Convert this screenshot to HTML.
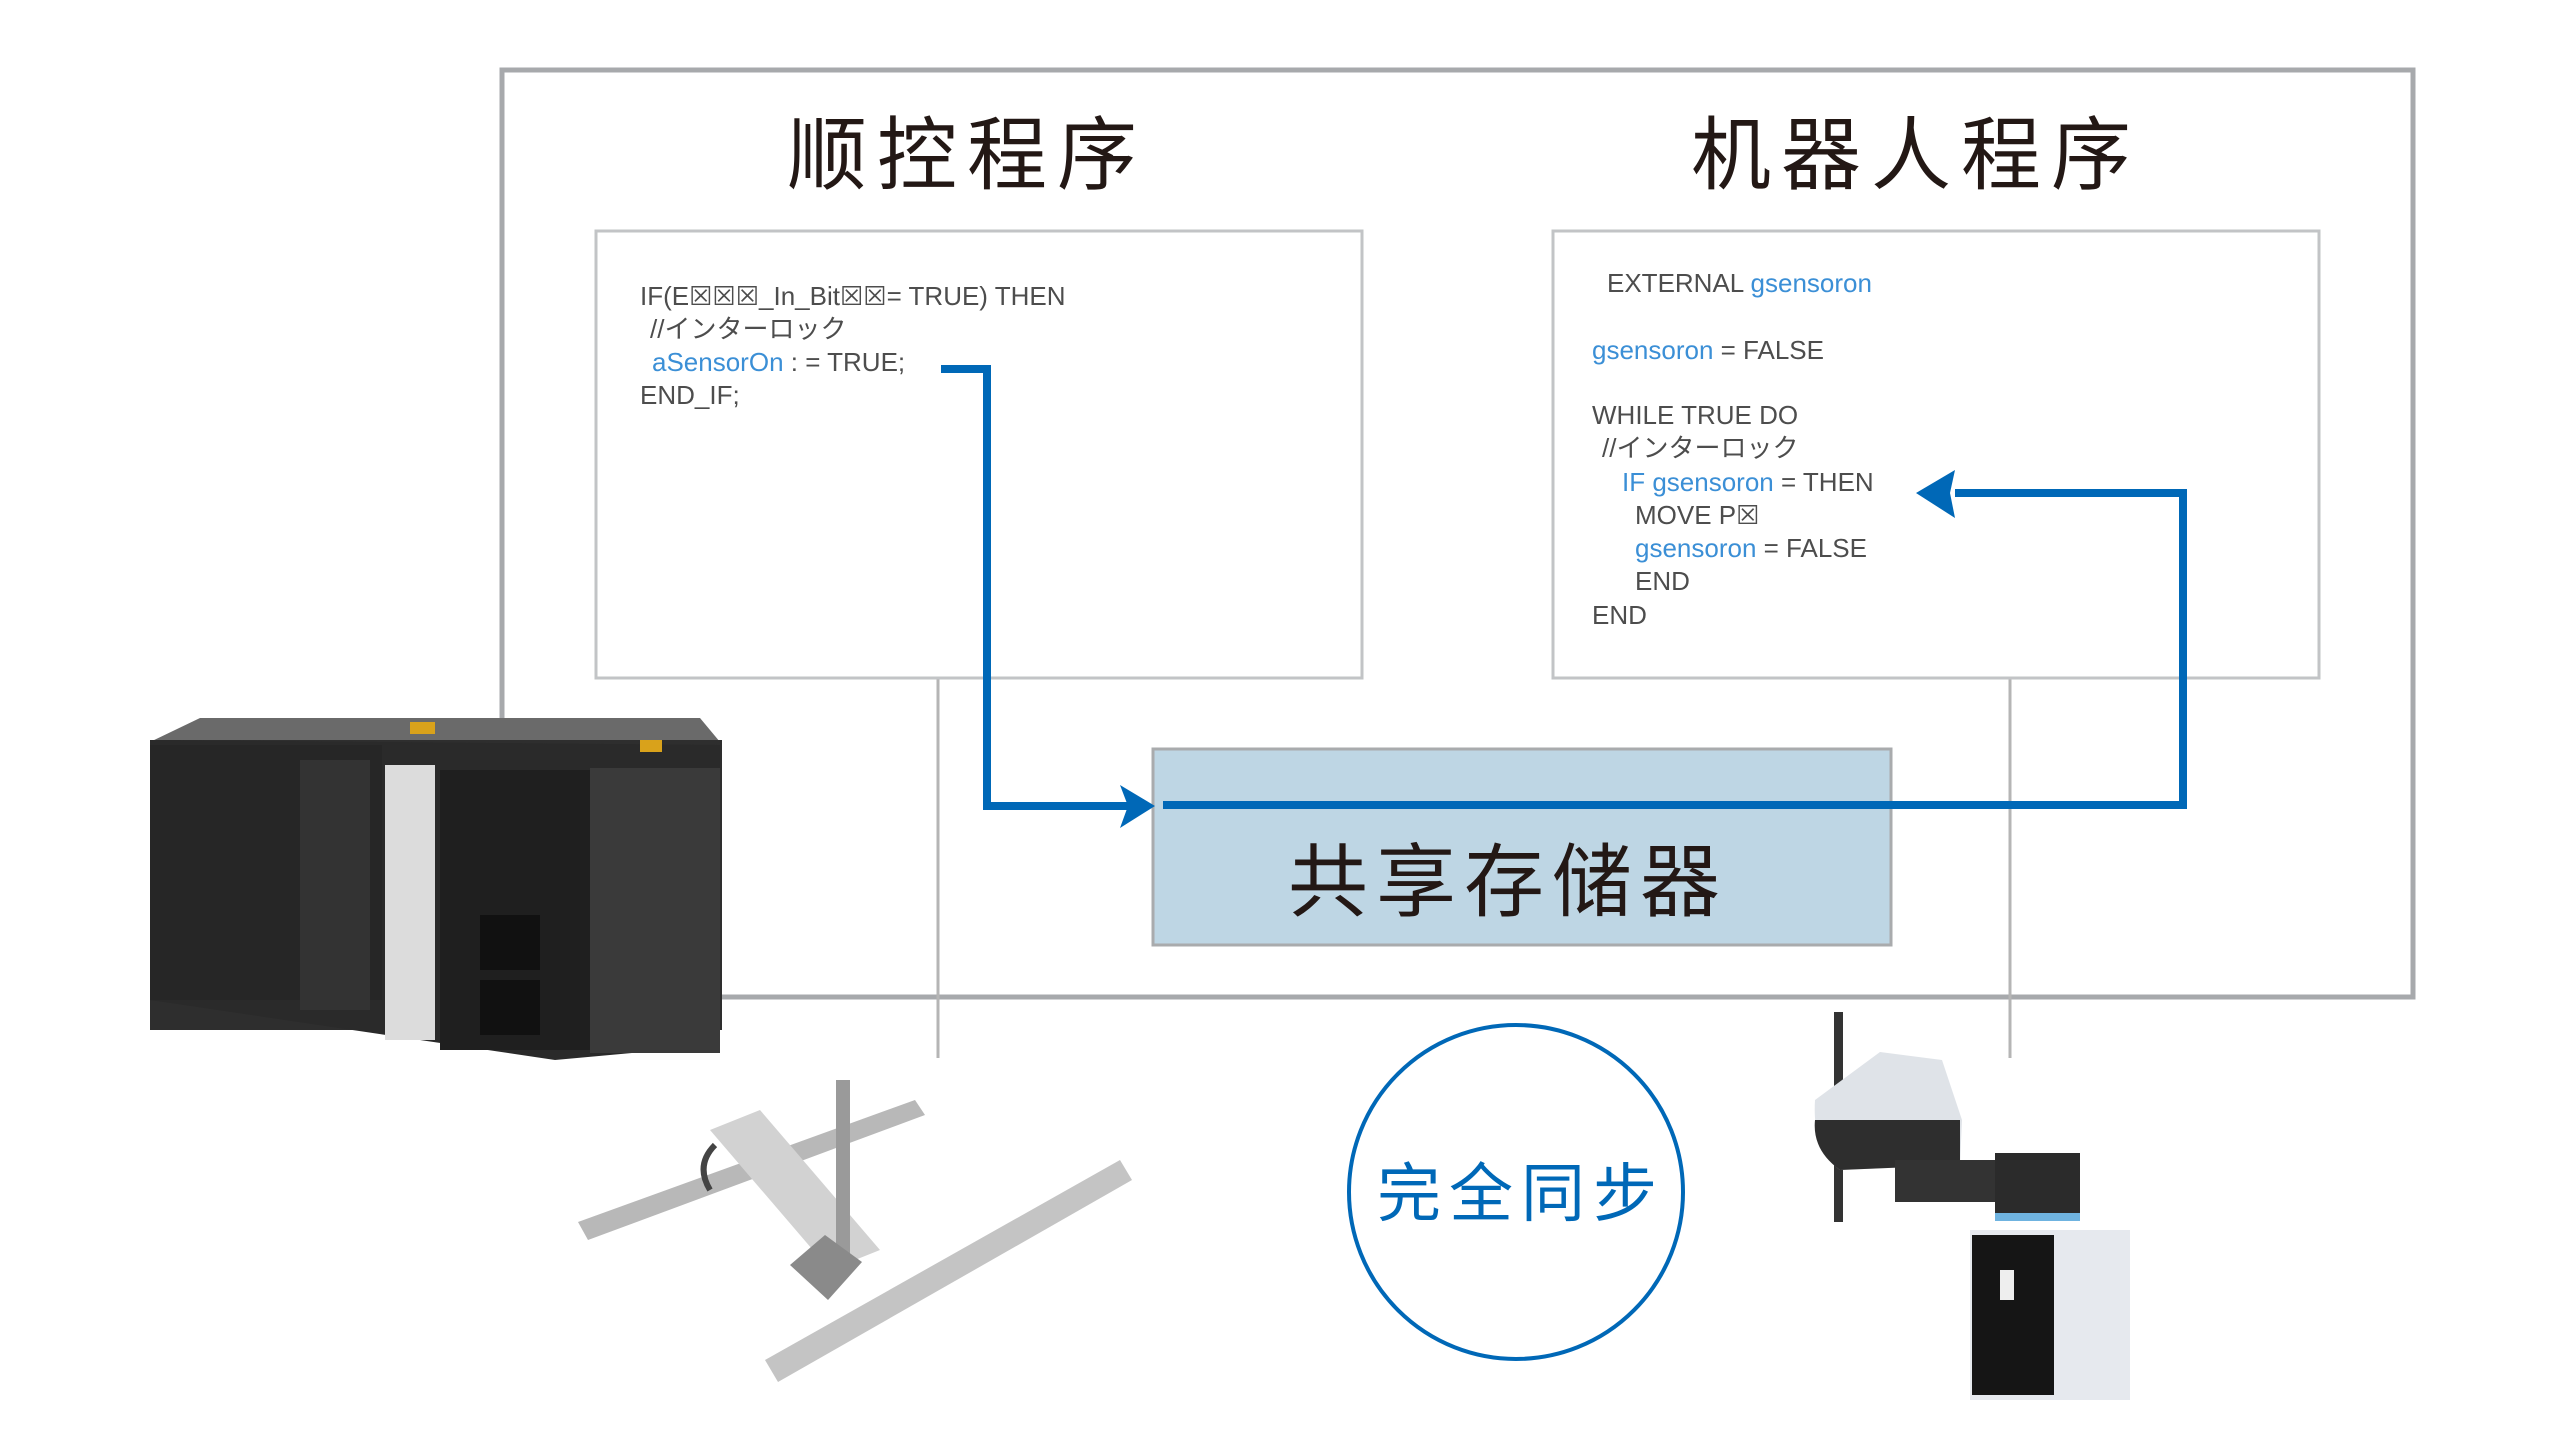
<!DOCTYPE html>
<html><head><meta charset="utf-8"><style>
html,body{margin:0;padding:0;background:#fff;}
body{width:2567px;height:1450px;overflow:hidden;position:relative;}
svg{position:absolute;left:0;top:0;}
</style></head><body>
<svg width="2567" height="1450" viewBox="0 0 2567 1450" xmlns="http://www.w3.org/2000/svg">
<!-- outer frame -->
<rect x="502" y="70" width="1911" height="927" fill="#fff" stroke="#a7a9ac" stroke-width="5"/>
<!-- gray drop lines -->
<line x1="938" y1="678" x2="938" y2="1058" stroke="#b5b5b5" stroke-width="3"/>
<line x1="2010" y1="678" x2="2010" y2="1058" stroke="#b5b5b5" stroke-width="3"/>
<!-- titles -->
<text x="967" y="183" font-family="Liberation Sans, Noto Sans CJK SC, sans-serif" font-size="80" letter-spacing="10" text-anchor="middle" fill="#231815">顺控程序</text>
<text x="1916" y="183" font-family="Liberation Sans, Noto Sans CJK SC, sans-serif" font-size="80" letter-spacing="10" text-anchor="middle" fill="#231815">机器人程序</text>
<!-- code boxes -->
<rect x="596" y="231" width="766" height="447" fill="#fff" stroke="#c2c4c6" stroke-width="3"/>
<rect x="1553" y="231" width="766" height="447" fill="#fff" stroke="#c2c4c6" stroke-width="3"/>
<g font-family="Liberation Sans, Noto Sans CJK JP, sans-serif" font-size="26" fill="#4d4d4d">
<text x="640" y="305">IF(E☒☒☒_In_Bit☒☒= TRUE) THEN</text>
<text x="650" y="338">//インターロック</text>
<text x="652" y="371"><tspan fill="#3b8fd6">aSensorOn</tspan> : = TRUE;</text>
<text x="640" y="404">END_IF;</text>
<text x="1607" y="292">EXTERNAL <tspan fill="#3b8fd6">gsensoron</tspan></text>
<text x="1592" y="359"><tspan fill="#3b8fd6">gsensoron</tspan> = FALSE</text>
<text x="1592" y="424">WHILE TRUE DO</text>
<text x="1602" y="457">//インターロック</text>
<text x="1622" y="491"><tspan fill="#3b8fd6">IF gsensoron</tspan> = THEN</text>
<text x="1635" y="524">MOVE P☒</text>
<text x="1635" y="557"><tspan fill="#3b8fd6">gsensoron</tspan> =    FALSE</text>
<text x="1635" y="590">END</text>
<text x="1592" y="624">END</text>
</g>
<!-- shared memory -->
<rect x="1153" y="749" width="738" height="196" fill="#bed6e4" stroke="#a9abad" stroke-width="3"/>
<text x="1508" y="910" font-family="Liberation Sans, Noto Sans CJK SC, sans-serif" font-size="80" letter-spacing="8" text-anchor="middle" fill="#231815">共享存储器</text>
<!-- blue connectors -->
<g stroke="#0068b7" stroke-width="8" fill="none" stroke-linejoin="miter">
<polyline points="941,369 987,369 987,806 1128,806"/>
<polyline points="1163,805 2183,805 2183,493 1955,493"/>
</g>
<polygon points="1155,806 1120,785 1128,806 1120,828" fill="#0068b7"/>
<polygon points="1916,493 1955,470 1950,493 1955,518" fill="#0068b7"/>
<!-- sync circle -->
<circle cx="1516" cy="1192" r="167" fill="#fff" stroke="#0068b7" stroke-width="4"/>
<text x="1521" y="1216" font-family="Liberation Sans, Noto Sans CJK SC, sans-serif" font-size="64" letter-spacing="8" text-anchor="middle" fill="#0068b7">完全同步</text>
<!-- PLC -->
<g>
<polygon points="150,742 200,718 700,718 720,742" fill="#6a6a6a"/>
<rect x="150" y="740" width="572" height="290" fill="#2e2e2e"/>
<polygon points="150,740 720,745 720,1045 555,1060 150,1000" fill="#2a2a2a"/>
<rect x="150" y="745" width="232" height="255" fill="#262626"/>
<rect x="300" y="760" width="70" height="250" fill="#333"/>
<rect x="385" y="765" width="50" height="275" fill="#dcdcdc"/>
<rect x="440" y="770" width="150" height="280" fill="#1f1f1f"/>
<rect x="480" y="915" width="60" height="55" fill="#111"/>
<rect x="480" y="980" width="60" height="55" fill="#111"/>
<rect x="590" y="768" width="130" height="285" fill="#3a3a3a"/>
<rect x="410" y="722" width="25" height="12" fill="#d9a21b"/>
<rect x="640" y="740" width="22" height="12" fill="#d9a21b"/>
</g>
<!-- gantry -->
<g>
<polygon points="578,1222 915,1100 925,1115 588,1240" fill="#b8b8b8"/>
<polygon points="765,1360 1120,1160 1132,1180 778,1382" fill="#c4c4c4"/>
<polygon points="710,1130 760,1110 880,1250 830,1270" fill="#d2d2d2"/>
<rect x="836" y="1080" width="14" height="190" fill="#9a9a9a"/>
<polygon points="825,1235 862,1262 828,1300 790,1265" fill="#8a8a8a"/>
<path d="M715,1145 q-20,20 -5,45" stroke="#444" stroke-width="6" fill="none"/>
</g>
<!-- robot -->
<g>
<rect x="1834" y="1012" width="9" height="210" fill="#333"/>
<path d="M1815,1100 L1880,1052 L1942,1060 L1962,1120 L1960,1165 L1840,1170 Q1812,1150 1815,1100 Z" fill="#dfe3e8"/>
<path d="M1815,1120 L1960,1120 L1960,1165 L1840,1170 Q1812,1150 1815,1120 Z" fill="#2e2e2e"/>
<rect x="1895" y="1160" width="110" height="42" fill="#333"/>
<rect x="1995" y="1153" width="85" height="65" fill="#2b2b2b"/>
<rect x="1995" y="1213" width="85" height="8" fill="#6fb3e0"/>
<rect x="1970" y="1230" width="160" height="170" fill="#e6e9ee"/>
<rect x="1972" y="1235" width="82" height="160" fill="#151515"/>
<rect x="2000" y="1270" width="14" height="30" fill="#eee"/>
</g>
</svg>
</body></html>
